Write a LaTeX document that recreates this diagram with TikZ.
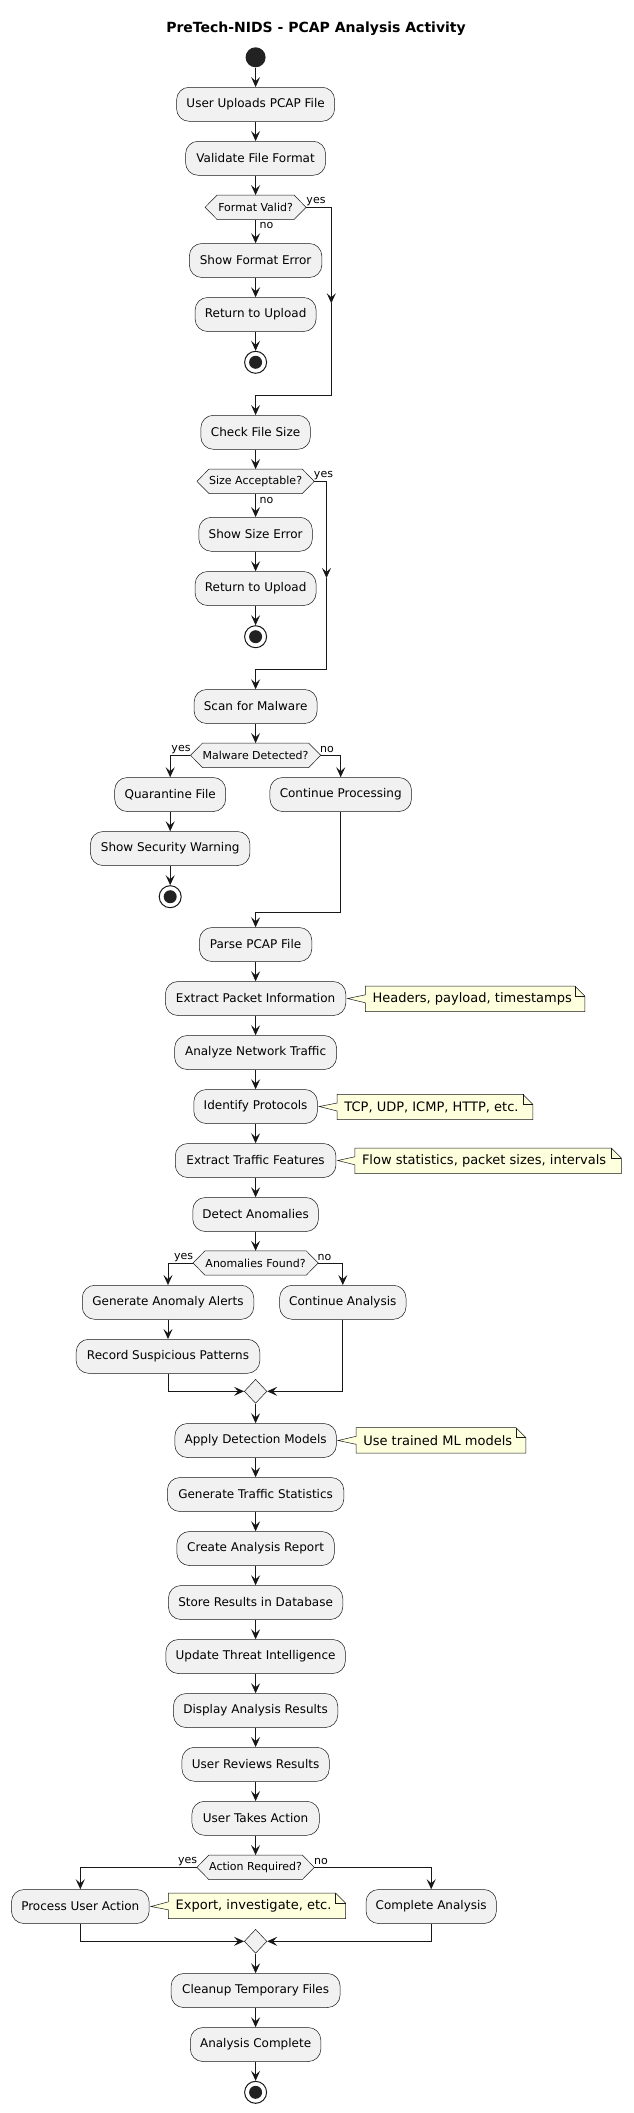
\documentclass[tikz,border=0pt]{standalone}
\usepackage{fontspec}
\setmainfont{DejaVu Sans}
\usetikzlibrary{arrows.meta,shapes.geometric,backgrounds,calc}
\definecolor{actf}{HTML}{F1F1F1}
\definecolor{linec}{HTML}{181818}
\definecolor{notef}{HTML}{FEFFDD}
\definecolor{startc}{HTML}{222222}
\newcommand\hexout[1]{\path[dec] (#1.north west) -- (#1.north east) -- ([xshift=12pt]#1.east) -- (#1.south east) -- (#1.south west) -- ([xshift=-12pt]#1.west) -- cycle;}
\newcommand\noteout[2]{\path[noteshape] (#1.north west) -- ([xshift=-10pt]#1.north east) -- ([yshift=-10pt]#1.north east) -- (#1.south east) -- (#1.south west) -- ([yshift=-4pt]#1.west) -- ([xshift=1.5pt]#2.east) -- ([yshift=4pt]#1.west) -- cycle;}
\newcommand\notefold[1]{\draw[foldline] ([xshift=-10pt]#1.north east) -- ([xshift=-10pt,yshift=-10pt]#1.north east) -- ([yshift=-10pt]#1.north east);}
\newcommand\nt[2]{\makebox[#1pt][l]{#2}}
\begin{document}
\begin{tikzpicture}[x=1pt,y=-1pt,
  act/.style={draw=linec, line width=0.5pt, fill=actf, rounded corners=12.5pt, minimum height=34pt, inner sep=0pt, font=\fontsize{12pt}{14pt}\selectfont},
  hexn/.style={minimum height=24pt, inner sep=0pt, font=\fontsize{11pt}{13pt}\selectfont},
  dec/.style={draw=linec, line width=0.5pt, fill=actf},
  lbl/.style={font=\fontsize{11pt}{13pt}\selectfont, inner sep=0pt},
  notebox/.style={inner xsep=7pt, inner ysep=0pt, minimum height=25pt, font=\fontsize{13pt}{15pt}\selectfont},
  noteshape/.style={draw=linec, line width=0.5pt, fill=notef},
  foldline/.style={draw=linec, line width=0.5pt},
  arr/.style={draw=linec, line width=1pt, -{Stealth[length=10pt,width=9pt,inset=4pt]}},
  merge/.style={diamond, draw=linec, line width=0.5pt, fill=actf, minimum width=22.6pt, minimum height=24pt, inner sep=0pt},
  startn/.style={circle, fill=startc, minimum size=20pt, inner sep=0pt},
  endn/.style={circle, draw=linec, line width=1pt, fill=white, minimum size=22pt, inner sep=0pt, path picture={\fill[startc] (path picture bounding box.center) circle (6.5pt);}}
]
\begin{scope}[on background layer]
\fill[white] (0,0) rectangle (633,2113);
\end{scope}
\useasboundingbox (0,0) rectangle (633,2113);

\node[font=\bfseries\fontsize{14pt}{16pt}\selectfont] (title) at (316,28.3) {PreTech-NIDS - PCAP Analysis Activity};
\node[startn] (s) at (255.6,57.3) {};
\node[act, minimum width=158pt] (a1) at (255.6,104.3) {User Uploads PCAP File};
\node[act, minimum width=140pt] (a2) at (255.6,158.3) {Validate File Format};
\node[hexn, minimum width=76.6pt] (d1) at (255.6,207.3) {Format Valid?};
\node[act, minimum width=132.5pt] (a3) at (255.6,260.5) {Show Format Error};
\node[act, minimum width=121pt] (a4) at (255.6,314.5) {Return to Upload};
\node[endn] (e1) at (255.6,362.3) {};
\node[act, minimum width=109.5pt] (a5) at (255.6,432.3) {Check File Size};
\node[hexn, minimum width=92.7pt] (d2) at (255.6,481.3) {Size Acceptable?};
\node[act, minimum width=113.5pt] (a6) at (255.6,534.3) {Show Size Error};
\node[act, minimum width=121pt] (a7) at (255.6,588.5) {Return to Upload};
\node[endn] (e2) at (255.6,636.7) {};
\node[act, minimum width=123pt] (a8) at (255.6,706.5) {Scan for Malware};
\node[hexn, minimum width=104.4pt] (d3) at (255.6,755.3) {Malware Detected?};
\node[act, minimum width=111pt] (a9) at (170.2,794.5) {Quarantine File};
\node[act, minimum width=141.5pt] (a10) at (340.7,794.5) {Continue Processing};
\node[act, minimum width=159.5pt] (a11) at (170.2,848.5) {Show Security Warning};
\node[endn] (e3) at (170.2,896.7) {};
\node[act, minimum width=112.3pt] (a12) at (255.6,944.5) {Parse PCAP File};
\node[act, minimum width=180.4pt] (a13) at (255.6,998.5) {Extract Packet Information};
\node[act, minimum width=162pt] (a14) at (255.6,1052.5) {Analyze Network Traffic};
\node[act, minimum width=123.7pt] (a15) at (255.6,1106.5) {Identify Protocols};
\node[act, minimum width=160.7pt] (a16) at (255.6,1160.5) {Extract Traffic Features};
\node[act, minimum width=125.7pt] (a17) at (255.6,1214.5) {Detect Anomalies};
\node[hexn, minimum width=100.8pt] (d4) at (255.6,1263) {Anomalies Found?};
\node[act, minimum width=171.5pt] (a18) at (168,1302.3) {Generate Anomaly Alerts};
\node[act, minimum width=126.4pt] (a19) at (342.8,1302.3) {Continue Analysis};
\node[act, minimum width=183.6pt] (a20) at (168,1356.3) {Record Suspicious Patterns};
\node[merge] (m1) at (255.6,1391.3) {};
\node[act, minimum width=161.5pt] (a21) at (255.6,1440.5) {Apply Detection Models};
\node[act, minimum width=176.4pt] (a22) at (255.6,1494.5) {Generate Traffic Statistics};
\node[act, minimum width=157.5pt] (a23) at (255.6,1548.5) {Create Analysis Report};
\node[act, minimum width=174.3pt] (a24) at (255.6,1602.5) {Store Results in Database};
\node[act, minimum width=179.5pt] (a25) at (255.6,1656.5) {Update Threat Intelligence};
\node[act, minimum width=164.3pt] (a26) at (255.6,1710.5) {Display Analysis Results};
\node[act, minimum width=147.3pt] (a27) at (255.6,1764.3) {User Reviews Results};
\node[act, minimum width=127.3pt] (a28) at (255.6,1818.3) {User Takes Action};
\node[hexn, minimum width=93.1pt] (d5) at (255.6,1867.3) {Action Required?};
\node[act, minimum width=137.7pt] (a29) at (80.3,1906.5) {Process User Action};
\node[act, minimum width=130.4pt] (a30) at (431.2,1906.5) {Complete Analysis};
\node[merge] (m2) at (255.6,1941.3) {};
\node[act, minimum width=169pt] (a31) at (255.6,1990.5) {Cleanup Temporary Files};
\node[act, minimum width=130.5pt] (a32) at (255.6,2044.5) {Analysis Complete};
\node[endn] (e4) at (255.6,2092.3) {};

% notes
\node[notebox] (n1) at (475.1,998.8) {\nt{205}{Headers, payload, timestamps}};
\node[notebox] (n2) at (435,1107) {\nt{181.2}{TCP, UDP, ICMP, HTTP, etc.}};
\node[notebox] (n3) at (488.1,1160.8) {\nt{252.2}{Flow statistics, packet sizes, intervals}};
\node[notebox] (n4) at (441,1440.3) {\nt{155.5}{Use trained ML models}};
\node[notebox] (n5) at (257,1905.8) {\nt{162.7}{Export, investigate, etc.}};

\begin{scope}[on background layer]
\hexout{d1}\hexout{d2}\hexout{d3}\hexout{d4}\hexout{d5}
\noteout{n1}{a13}\noteout{n2}{a15}\noteout{n3}{a16}\noteout{n4}{a21}\noteout{n5}{a29}
\end{scope}
\notefold{n1}\notefold{n2}\notefold{n3}\notefold{n4}\notefold{n5}

% labels
\node[lbl] (y1) at (316,201.5) {yes};
\node[lbl] (o1) at (266.5,225.5) {no};
\node[lbl] (y2) at (323.5,475.7) {yes};
\node[lbl] (o2) at (266.5,500.3) {no};
\node[lbl] (y3) at (181,749.3) {yes};
\node[lbl] (o3) at (327,749.3) {no};
\node[lbl] (y4) at (183.6,1257.7) {yes};
\node[lbl] (o4) at (324.5,1257.7) {no};
\node[lbl] (y5) at (187.6,1861.7) {yes};
\node[lbl] (o5) at (320.9,1861.7) {no};

% hexagon points
\coordinate (d1e) at ([xshift=12pt]d1.east);
\coordinate (d2e) at ([xshift=12pt]d2.east);
\coordinate (d3e) at ([xshift=12pt]d3.east);
\coordinate (d3w) at ([xshift=-12pt]d3.west);
\coordinate (d4e) at ([xshift=12pt]d4.east);
\coordinate (d4w) at ([xshift=-12pt]d4.west);
\coordinate (d5e) at ([xshift=12pt]d5.east);
\coordinate (d5w) at ([xshift=-12pt]d5.west);

% routing coordinates
\coordinate (b1m) at (331.3,303.3);
\coordinate (b1c) at (255.6,395.3);
\coordinate (b2m) at (326.5,578);
\coordinate (b2c) at (255.6,669.3);
\coordinate (j3) at (255.6,912.3);

% connectors
\draw[arr] (s.south) -- (a1.north);
\draw[arr] (a1.south) -- (a2.north);
\draw[arr] (a2.south) -- (d1.north);
\draw[arr] (d1.south) -- (a3.north);
\draw[arr] (a3.south) -- (a4.north);
\draw[arr] (a4.south) -- (e1.north);
\draw[arr] (d1e) -| (b1m);
\draw[arr] (b1m) |- (b1c) -- (a5.north);
\draw[arr] (a5.south) -- (d2.north);
\draw[arr] (d2.south) -- (a6.north);
\draw[arr] (a6.south) -- (a7.north);
\draw[arr] (a7.south) -- (e2.north);
\draw[arr] (d2e) -| (b2m);
\draw[arr] (b2m) |- (b2c) -- (a8.north);
\draw[arr] (a8.south) -- (d3.north);
\draw[arr] (d3w) -| (a9.north);
\draw[arr] (d3e) -| (a10.north);
\draw[arr] (a9.south) -- (a11.north);
\draw[arr] (a11.south) -- (e3.north);
\draw[arr] (a10.south) |- (j3) -- (a12.north);
\draw[arr] (a12.south) -- (a13.north);
\draw[arr] (a13.south) -- (a14.north);
\draw[arr] (a14.south) -- (a15.north);
\draw[arr] (a15.south) -- (a16.north);
\draw[arr] (a16.south) -- (a17.north);
\draw[arr] (a17.south) -- (d4.north);
\draw[arr] (d4w) -| (a18.north);
\draw[arr] (d4e) -| (a19.north);
\draw[arr] (a18.south) -- (a20.north);
\draw[arr] (a20.south) |- (m1.west);
\draw[arr] (a19.south) |- (m1.east);
\draw[arr] (m1.south) -- (a21.north);
\draw[arr] (a21.south) -- (a22.north);
\draw[arr] (a22.south) -- (a23.north);
\draw[arr] (a23.south) -- (a24.north);
\draw[arr] (a24.south) -- (a25.north);
\draw[arr] (a25.south) -- (a26.north);
\draw[arr] (a26.south) -- (a27.north);
\draw[arr] (a27.south) -- (a28.north);
\draw[arr] (a28.south) -- (d5.north);
\draw[arr] (d5w) -| (a29.north);
\draw[arr] (d5e) -| (a30.north);
\draw[arr] (a29.south) |- (m2.west);
\draw[arr] (a30.south) |- (m2.east);
\draw[arr] (m2.south) -- (a31.north);
\draw[arr] (a31.south) -- (a32.north);
\draw[arr] (a32.south) -- (e4.north);
\end{tikzpicture}
\end{document}
